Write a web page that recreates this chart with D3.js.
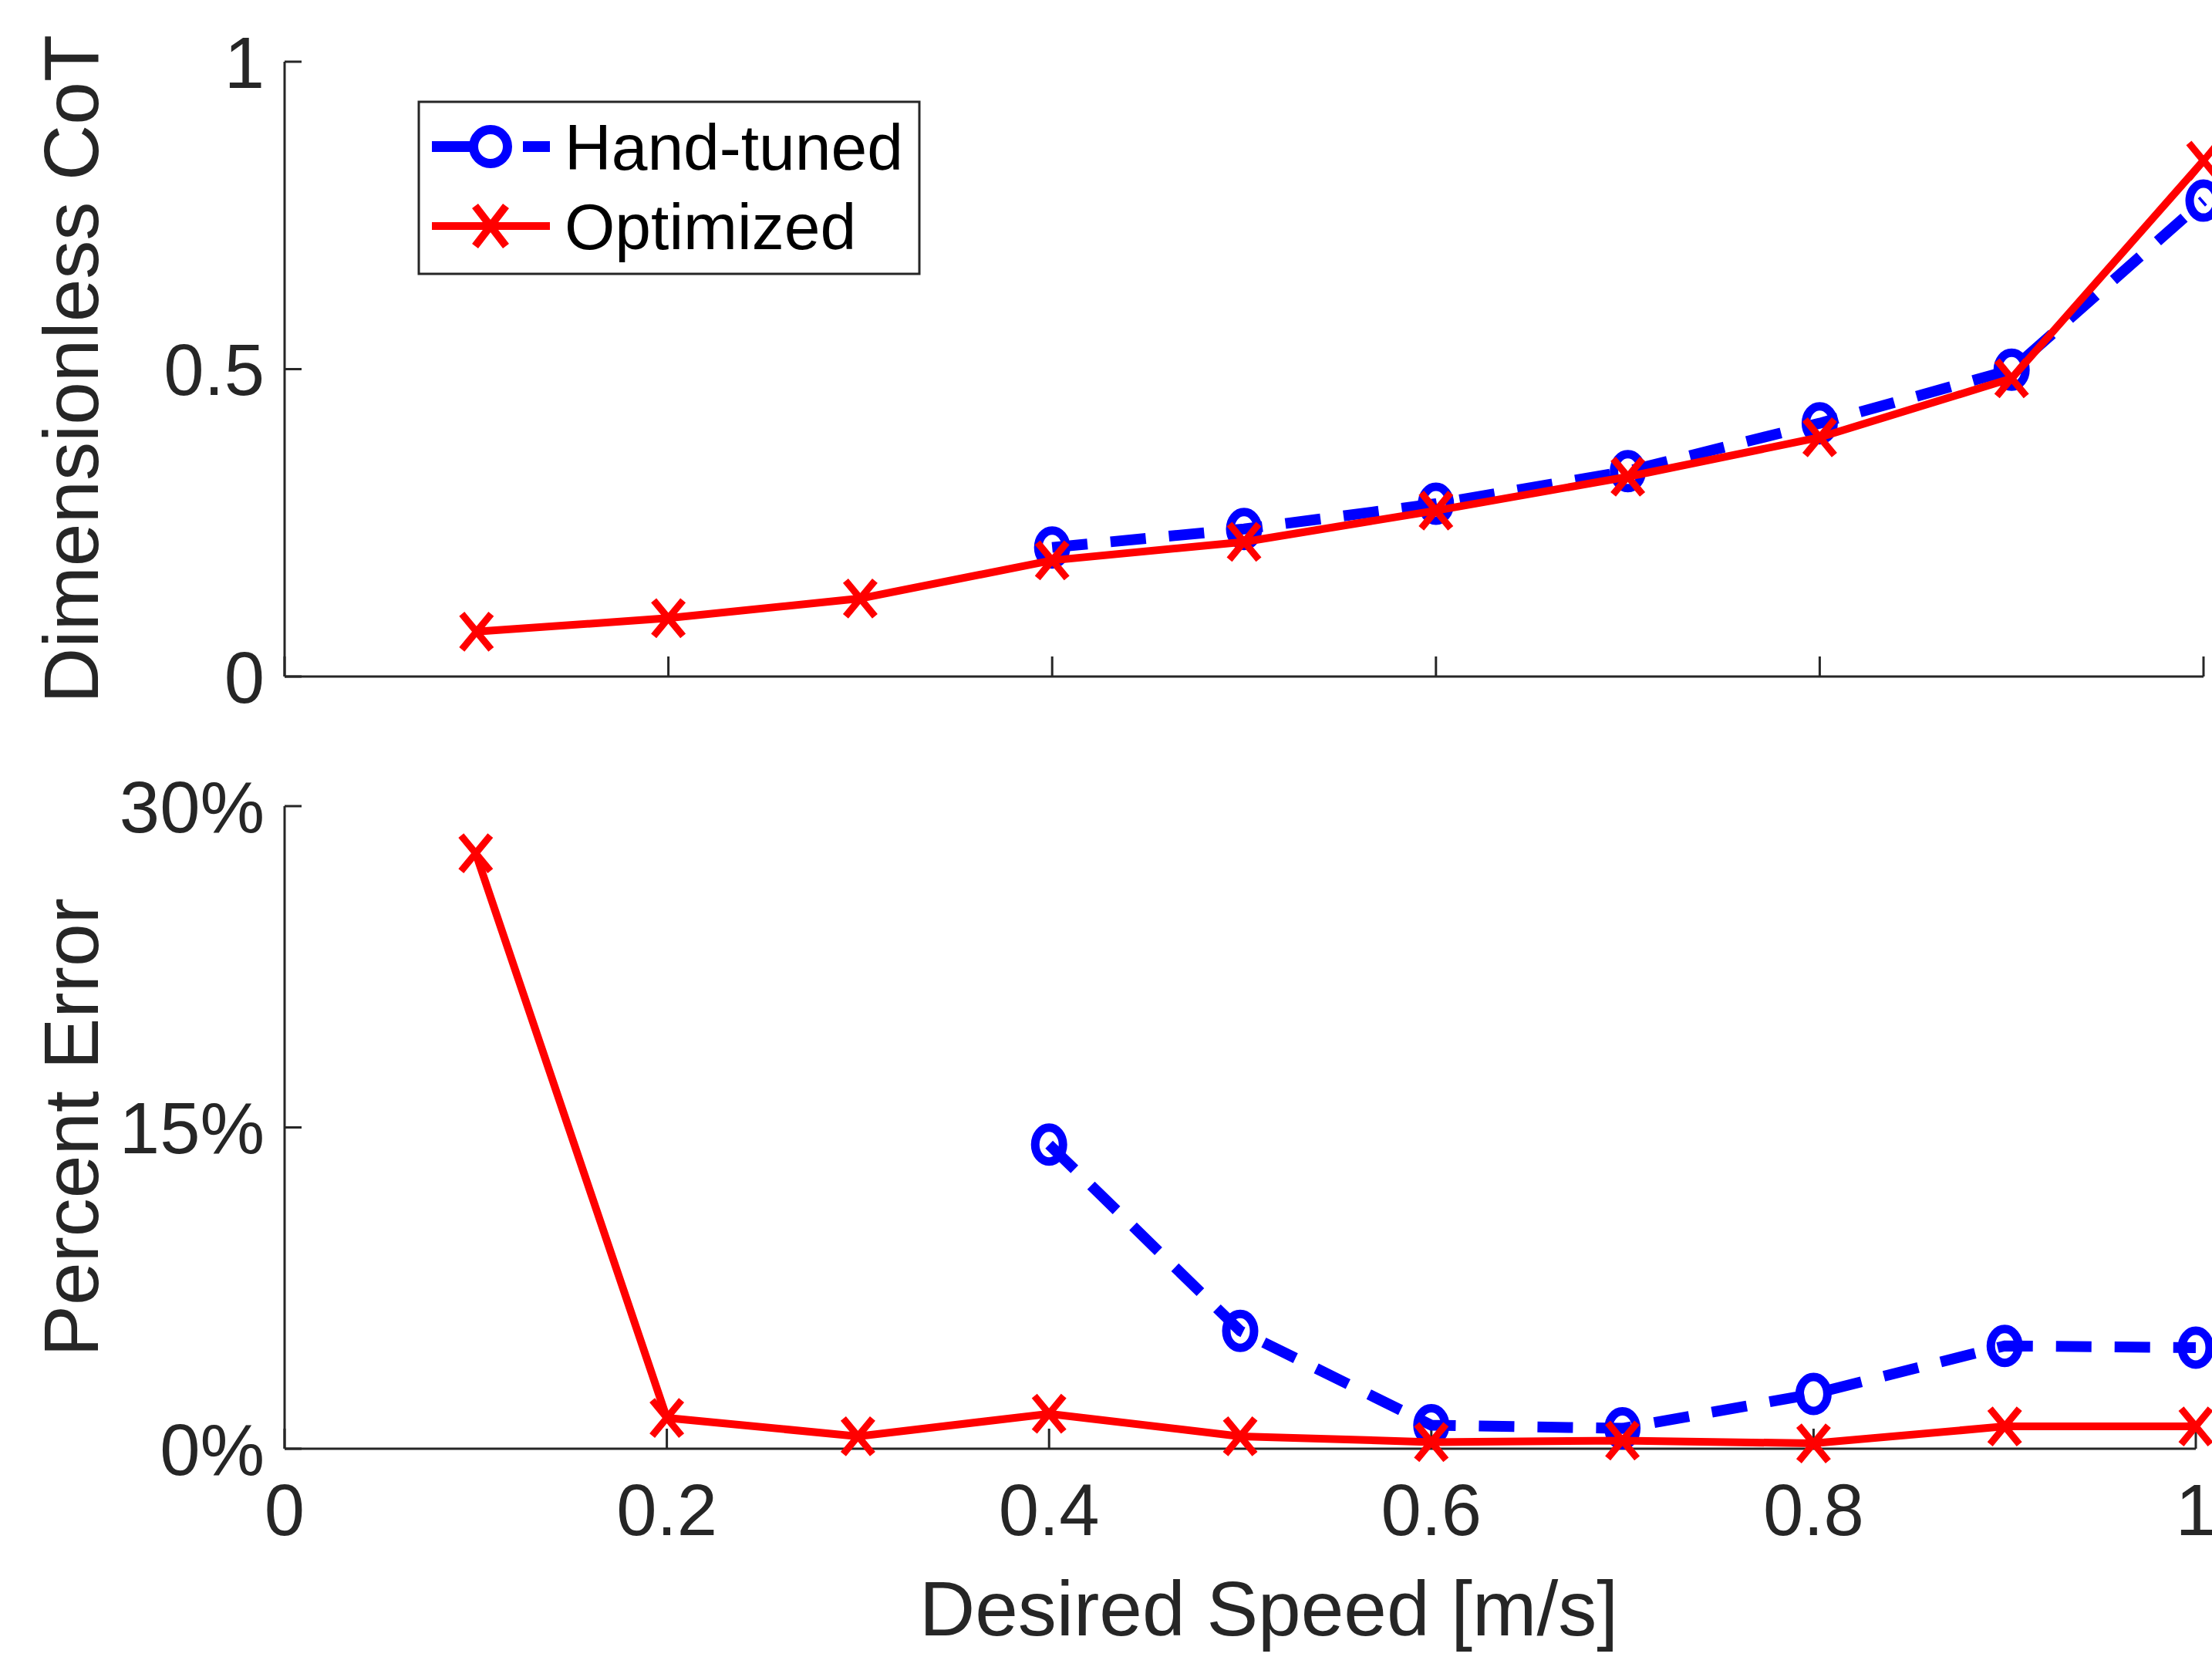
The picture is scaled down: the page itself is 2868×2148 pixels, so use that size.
<!DOCTYPE html>
<html>
<head>
<meta charset="utf-8">
<script src="https://cdn.jsdelivr.net/npm/d3@7"></script>
<style>
  body { margin: 0; background: #fff; }
  svg { display: block; }
  text { font-family: "Liberation Sans", Arial, Helvetica, sans-serif; }
</style>
</head>
<body>
<div id="chart"></div>
<script>
// speeds (m/s)
const speedsOpt = [0.1, 0.2, 0.3, 0.4, 0.5, 0.6, 0.7, 0.8, 0.9, 1.0];
const speedsHand = [0.4, 0.5, 0.6, 0.7, 0.8, 0.9, 1.0];

// dimensionless cost of transport
const cotOptimized = [0.073, 0.095, 0.127, 0.189, 0.219, 0.27, 0.325, 0.389, 0.485, 0.839];
const cotHandTuned = [0.21, 0.24, 0.281, 0.334, 0.412, 0.499, 0.774];

// percent error
const errOptimized = [27.8, 1.44, 0.58, 1.63, 0.58, 0.31, 0.38, 0.25, 1.04, 1.04];
const errHandTuned = [14.2, 5.5, 1.1, 0.95, 2.56, 4.8, 4.72];

const xTicks = [0, 0.2, 0.4, 0.6, 0.8, 1];
const cotTicks = [0, 0.5, 1];
const errTicks = [0, 15, 30];

const width = 2868, height = 2148;
const AXIS_COLOR = '#262626';
const BLUE = '#0000ff', RED = '#ff0000';

const svg = d3.select('#chart').append('svg')
    .attr('width', width)
    .attr('height', height);

// one panel: left + bottom axes, inward ticks
function drawPanel(opts) {
    const x = d3.scaleLinear().domain([0, 1]).range([369, opts.right]);
    const y = d3.scaleLinear().domain(opts.yDomain).range([opts.bottom, opts.top]);
    const g = svg.append('g');

    // axis lines
    g.append('line')
        .attr('x1', x(0)).attr('x2', x(0))
        .attr('y1', y(opts.yDomain[0])).attr('y2', y(opts.yDomain[1]))
        .attr('stroke', AXIS_COLOR).attr('stroke-width', 3);
    g.append('line')
        .attr('x1', x(0)).attr('x2', x(1))
        .attr('y1', y(opts.yDomain[0])).attr('y2', y(opts.yDomain[0]))
        .attr('stroke', AXIS_COLOR).attr('stroke-width', 3);

    // y ticks
    opts.yTicks.forEach(t => {
        g.append('line')
            .attr('x1', x(0)).attr('x2', x(0) + 22)
            .attr('y1', y(t)).attr('y2', y(t))
            .attr('stroke', AXIS_COLOR).attr('stroke-width', 3);
        g.append('text')
            .attr('x', x(0) - 26)
            .attr('y', y(t))
            .attr('dy', '0.36em')
            .attr('text-anchor', 'end')
            .style('font-size', '94px')
            .style('fill', AXIS_COLOR)
            .text(opts.yFormat(t));
    });

    // x ticks
    xTicks.forEach(t => {
        g.append('line')
            .attr('x1', x(t)).attr('x2', x(t))
            .attr('y1', y(opts.yDomain[0])).attr('y2', y(opts.yDomain[0]) - 26)
            .attr('stroke', AXIS_COLOR).attr('stroke-width', 3);
        if (opts.xLabels) {
            g.append('text')
                .attr('x', x(t))
                .attr('y', y(opts.yDomain[0]) + 112)
                .attr('text-anchor', 'middle')
                .style('font-size', '94px')
                .style('fill', AXIS_COLOR)
                .text(d3.format('~g')(t));
        }
    });

    // y label
    g.append('text')
        .attr('transform', `translate(${opts.yLabelX},${(y(opts.yDomain[0]) + y(opts.yDomain[1])) / 2}) rotate(-90)`)
        .attr('text-anchor', 'middle')
        .attr('dy', '0.36em')
        .style('font-size', '100px')
        .style('fill', AXIS_COLOR)
        .text(opts.yLabel);

    // hand-tuned: dashed blue with circles
    const line = d3.line().x(d => x(d[0])).y(d => y(d[1]));
    const hand = speedsHand.map((s, i) => [s, opts.hand[i]]);
    const opt = speedsOpt.map((s, i) => [s, opts.opt[i]]);

    g.append('path')
        .datum(hand)
        .attr('fill', 'none')
        .attr('stroke', BLUE)
        .attr('stroke-width', 14)
        .attr('stroke-dasharray', '46,30')
        .attr('d', line);
    g.selectAll('.hand-marker')
        .data(hand)
        .join('ellipse')
        .attr('class', 'hand-marker')
        .attr('cx', d => x(d[0]))
        .attr('cy', d => y(d[1]))
        .attr('rx', 18)
        .attr('ry', 22)
        .attr('fill', 'none')
        .attr('stroke', BLUE)
        .attr('stroke-width', 11);

    // optimized: solid red with x markers
    g.append('path')
        .datum(opt)
        .attr('fill', 'none')
        .attr('stroke', RED)
        .attr('stroke-width', 10)
        .attr('d', line);
    g.selectAll('.opt-marker')
        .data(opt)
        .join('path')
        .attr('class', 'opt-marker')
        .attr('d', d => {
            const cx = x(d[0]), cy = y(d[1]);
            return `M${cx - 19},${cy - 23}L${cx + 19},${cy + 23}M${cx - 19},${cy + 23}L${cx + 19},${cy - 23}`;
        })
        .attr('fill', 'none')
        .attr('stroke', RED)
        .attr('stroke-width', 9);

    return { x, y };
}

drawPanel({
    top: 80, bottom: 877, right: 2857,
    yDomain: [0, 1], yTicks: cotTicks,
    yFormat: d3.format('~g'),
    yLabel: 'Dimensionless CoT', yLabelX: 91,
    hand: cotHandTuned, opt: cotOptimized,
    xLabels: false
});

drawPanel({
    top: 1045, bottom: 1878, right: 2847,
    yDomain: [0, 30], yTicks: errTicks,
    yFormat: d => d + '%',
    yLabel: 'Percent Error', yLabelX: 91,
    hand: errHandTuned, opt: errOptimized,
    xLabels: true
});

// x axis title
svg.append('text')
    .attr('x', 1645)
    .attr('y', 2120)
    .attr('text-anchor', 'middle')
    .style('font-size', '100px')
    .style('fill', AXIS_COLOR)
    .text('Desired Speed [m/s]');

// legend
const legend = svg.append('g');
legend.append('rect')
    .attr('x', 543).attr('y', 132)
    .attr('width', 649).attr('height', 223)
    .attr('fill', '#fff')
    .attr('stroke', AXIS_COLOR)
    .attr('stroke-width', 3);

const legendItems = [
    { label: 'Hand-tuned', color: BLUE, y: 190, dashed: true, marker: 'circle' },
    { label: 'Optimized', color: RED, y: 293, dashed: false, marker: 'x' }
];
legendItems.forEach(item => {
    legend.append('line')
        .attr('x1', 560).attr('x2', 713)
        .attr('y1', item.y).attr('y2', item.y)
        .attr('stroke', item.color)
        .attr('stroke-width', item.dashed ? 14 : 10)
        .attr('stroke-dasharray', item.dashed ? '95,23,35' : null);
    if (item.marker === 'circle') {
        legend.append('circle')
            .attr('cx', 636).attr('cy', item.y).attr('r', 22)
            .attr('fill', '#fff')
            .attr('stroke', item.color)
            .attr('stroke-width', 12);
    } else {
        legend.append('path')
            .attr('d', `M${636 - 20},${item.y - 26}L${636 + 20},${item.y + 26}M${636 - 20},${item.y + 26}L${636 + 20},${item.y - 26}`)
            .attr('stroke', item.color)
            .attr('stroke-width', 10);
    }
    legend.append('text')
        .attr('x', 732)
        .attr('y', item.y)
        .attr('dy', '0.36em')
        .style('font-size', '84px')
        .style('fill', '#000')
        .text(item.label);
});
</script>
</body>
</html>
